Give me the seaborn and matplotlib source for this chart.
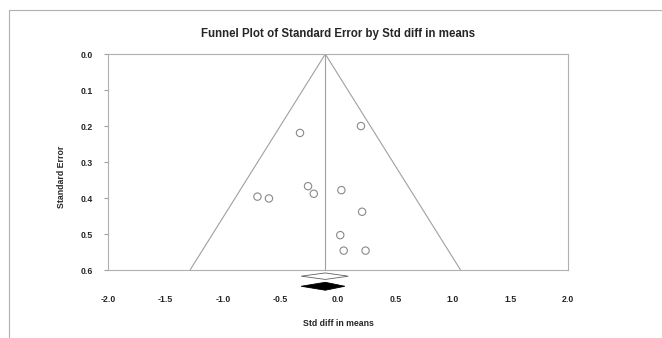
import numpy as np
import pandas as pd
import matplotlib
matplotlib.use('Agg')
import matplotlib.pyplot as plt
from matplotlib.lines import Line2D
import seaborn as sns

# study effects
std_diff = [-0.33, 0.20, -0.26, -0.21, 0.03, 0.21, 0.02, 0.05, 0.24, -0.70, -0.60]
std_err = [0.219, 0.200, 0.367, 0.388, 0.378, 0.438, 0.503, 0.546, 0.546, 0.396, 0.401]

# pooled estimate and its interval (observed / imputed diamonds)
pooled = -0.11
ci_obs = (-0.32, 0.09)
ci_imp = (-0.32, 0.06)

x_ticks = [-2.0, -1.5, -1.0, -0.5, 0.0, 0.5, 1.0, 1.5, 2.0]
y_ticks = [0.0, 0.1, 0.2, 0.3, 0.4, 0.5, 0.6]

sns.set_style('white')
plt.rcParams['font.family'] = ['Liberation Sans', 'DejaVu Sans']

Datas = pd.DataFrame({'diff': std_diff, 'se': std_err})

fig = plt.figure(figsize=(6.62, 3.38), dpi=100)
ax = fig.add_axes([0.163, 0.201, 0.695, 0.639])

grey = '#a0a0a0'

# funnel (95% limits) and pooled line
se_max = 0.6
ax.plot([pooled - 1.96 * se_max, pooled, pooled + 1.96 * se_max], [se_max, 0, se_max],
        color=grey, lw=0.8)
ax.plot([pooled, pooled], [0, se_max], color=grey, lw=0.8)

sns.scatterplot(data=Datas, x='diff', y='se', ax=ax, s=28, facecolor='none',
                edgecolor='#8a8a8a', linewidth=0.8, zorder=3)

# diamonds under the axis
def diamond(lo, mid, hi, yc, h, **kw):
    ax.fill([lo, mid, hi, mid], [yc, yc - h, yc, yc + h], clip_on=False, **kw)

diamond(ci_obs[0], pooled, ci_obs[1], 0.617, 0.009, facecolor='white', edgecolor='#606060', lw=0.6)
diamond(ci_imp[0], pooled, ci_imp[1], 0.645, 0.011, facecolor='black', edgecolor='black', lw=0.6)

ax.set_xlim(-2.0, 2.0)
ax.set_ylim(0.6, 0.0)
ax.set_xticks(x_ticks)
ax.set_yticks(y_ticks)
ax.set_xticklabels(['%.1f' % v for v in x_ticks], fontsize=6.3, fontweight='bold')
ax.set_yticklabels(['%.1f' % v for v in y_ticks], fontsize=6.3, fontweight='bold')
ax.tick_params(axis='x', direction='in', length=3, color=grey, pad=18)
ax.tick_params(axis='y', direction='out', length=3, color=grey, pad=8, left=True)
for sp in ax.spines.values():
    sp.set_color('#b0b0b0')
    sp.set_linewidth(0.8)

ax.set_xlabel('Std diff in means', fontsize=6.3, fontweight='bold')
ax.set_ylabel('Standard Error', fontsize=6.3, fontweight='bold')
ax.xaxis.set_label_coords(0.5, -0.225)
ax.yaxis.set_label_coords(-0.09, 0.43)
ax.set_title('Funnel Plot of Standard Error by Std diff in means', fontsize=8.3,
             fontweight='bold', pad=12)

# outer frame lines
fig.add_artist(Line2D([9 / 662, 1.0], [1 - 10 / 338, 1 - 10 / 338], color='#b0b0b0', lw=0.8))
fig.add_artist(Line2D([9 / 662, 9 / 662], [0, 1 - 10 / 338], color='#b0b0b0', lw=0.8))

fig.savefig('out.png', dpi=100)
